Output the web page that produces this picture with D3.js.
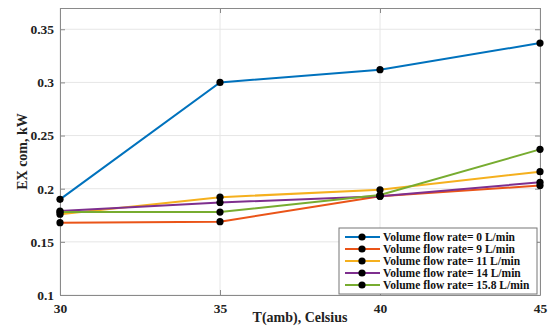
<!DOCTYPE html>
<html>
<head>
<meta charset="utf-8">
<script src="https://cdn.jsdelivr.net/npm/d3@7"></script>
<style>
  body { margin: 0; background: #fff; }
  .tick text { font-family: "Liberation Serif", "Times New Roman", serif; font-weight: bold; font-size: 13.5px; fill: #222; }
</style>
</head>
<body>
<div id="chart"></div>
<script>
// data
const temps = [30, 35, 40, 45];
const flow0 = [0.190, 0.300, 0.312, 0.337];
const flow9 = [0.168, 0.169, 0.193, 0.203];
const flow11 = [0.176, 0.192, 0.199, 0.216];
const flow14 = [0.179, 0.187, 0.193, 0.206];
const flow158 = [0.178, 0.178, 0.194, 0.237];
const seriesNames = [
  'Volume flow rate= 0 L/min',
  'Volume flow rate= 9 L/min',
  'Volume flow rate= 11 L/min',
  'Volume flow rate= 14 L/min',
  'Volume flow rate= 15.8 L/min'
];
const xTicks = [30, 35, 40, 45];
const yTicks = [0.1, 0.15, 0.2, 0.25, 0.3, 0.35];

const colors = ['#0072BD', '#EA5418', '#F5B01E', '#7E2F8E', '#77AC30'];
const allSeries = [flow0, flow9, flow11, flow14, flow158];

const width = 548, height = 327;
const margin = { top: 8, right: 8, bottom: 32, left: 60 };

const svg = d3.select('#chart').append('svg')
  .attr('width', width)
  .attr('height', height);

const x = d3.scaleLinear().domain([30, 45]).range([margin.left, width - margin.right]);
const y = d3.scaleLinear().domain([0.1, 0.37]).range([height - margin.bottom, margin.top]);

// grid
svg.append('g').selectAll('line.gx')
  .data(xTicks).enter().append('line')
  .attr('x1', d => x(d)).attr('x2', d => x(d))
  .attr('y1', y.range()[1]).attr('y2', y.range()[0])
  .attr('stroke', '#e6e6e6').attr('stroke-width', 1);
svg.append('g').selectAll('line.gy')
  .data(yTicks).enter().append('line')
  .attr('x1', x.range()[0]).attr('x2', x.range()[1])
  .attr('y1', d => y(d)).attr('y2', d => y(d))
  .attr('stroke', '#e6e6e6').attr('stroke-width', 1);

// axes (MATLAB style: ticks inward, box all round)
const bottomAxis = svg.append('g')
  .attr('transform', `translate(0, ${height - margin.bottom})`)
  .call(d3.axisBottom(x).tickValues(xTicks).tickFormat(d3.format('d')).tickSizeInner(-5).tickSizeOuter(0).tickPadding(8));
const leftAxis = svg.append('g')
  .attr('transform', `translate(${margin.left}, 0)`)
  .call(d3.axisLeft(y).tickValues(yTicks).tickFormat(d => d3.format('')(+d.toFixed(2))).tickSizeInner(-5).tickSizeOuter(0).tickPadding(6));
const topAxis = svg.append('g')
  .attr('transform', `translate(0, ${margin.top})`)
  .call(d3.axisTop(x).tickValues(xTicks).tickFormat('').tickSizeInner(-5).tickSizeOuter(0));
const rightAxis = svg.append('g')
  .attr('transform', `translate(${width - margin.right}, 0)`)
  .call(d3.axisRight(y).tickValues(yTicks).tickFormat('').tickSizeInner(-5).tickSizeOuter(0));

[bottomAxis, leftAxis, topAxis, rightAxis].forEach(g => {
  g.selectAll('path, line').attr('stroke', '#8a8a8a');
});

// lines
const line = d3.line()
  .x((d, i) => x(temps[i]))
  .y(d => y(d));

allSeries.forEach((vals, k) => {
  svg.append('path')
    .datum(vals)
    .attr('d', line)
    .attr('fill', 'none')
    .attr('stroke', colors[k])
    .attr('stroke-width', 2);
});
allSeries.forEach((vals, k) => {
  svg.append('g').selectAll('circle')
    .data(vals).enter().append('circle')
    .attr('cx', (d, i) => x(temps[i]))
    .attr('cy', d => y(d))
    .attr('r', 3.6)
    .attr('fill', '#000');
});

// axis labels
svg.append('text')
  .attr('x', (x.range()[0] + x.range()[1]) / 2)
  .attr('y', 322)
  .attr('text-anchor', 'middle')
  .style('font-family', '"Liberation Serif", serif')
  .style('font-weight', 'bold')
  .style('font-size', '14px')
  .attr('fill', '#222')
  .text('T(amb), Celsius');

svg.append('text')
  .attr('transform', 'rotate(-90)')
  .attr('x', -(y.range()[0] + y.range()[1]) / 2)
  .attr('y', 27)
  .attr('text-anchor', 'middle')
  .style('font-family', '"Liberation Serif", serif')
  .style('font-weight', 'bold')
  .style('font-size', '14px')
  .attr('fill', '#222')
  .text('EX com, kW');

// legend
const legend = svg.append('g').attr('transform', 'translate(339, 228)');
legend.append('rect')
  .attr('width', 198).attr('height', 66)
  .attr('fill', '#fff')
  .attr('stroke', '#777').attr('stroke-width', 1);
seriesNames.forEach((name, k) => {
  const row = legend.append('g').attr('transform', `translate(0, ${9 + k * 12})`);
  row.append('line')
    .attr('x1', 6).attr('x2', 41)
    .attr('stroke', colors[k]).attr('stroke-width', 2);
  row.append('circle')
    .attr('cx', 23).attr('r', 3.6).attr('fill', '#000');
  row.append('text')
    .attr('x', 44).attr('dy', '0.35em')
    .style('font-family', '"Liberation Serif", serif')
    .style('font-weight', 'bold')
    .style('font-size', '11.5px')
    .attr('fill', '#111')
    .text(name);
});
</script>
</body>
</html>
